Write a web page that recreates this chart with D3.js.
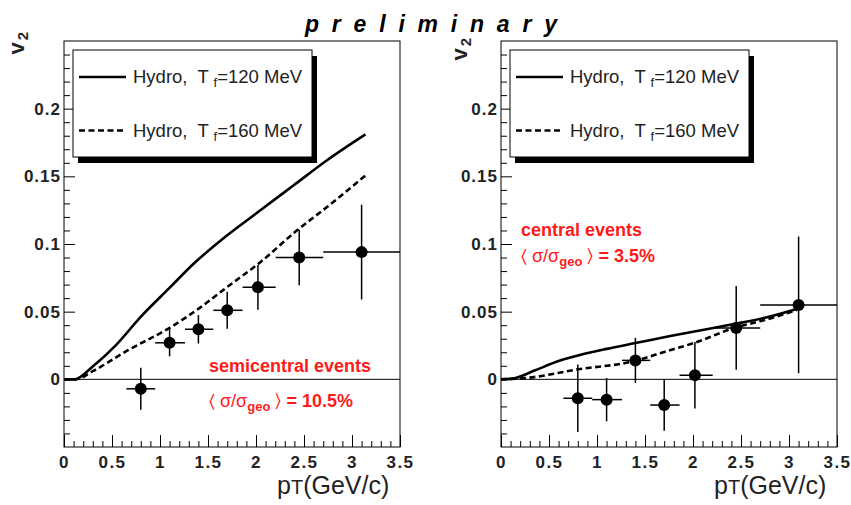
<!DOCTYPE html>
<html>
<head>
<meta charset="utf-8">
<script src="https://cdn.jsdelivr.net/npm/d3@7"></script>
<style>
  body { margin: 0; background: #fff; }
  svg { display: block; font-family: "Liberation Sans", Arial, Helvetica, sans-serif; }
  text { white-space: pre; }
</style>
</head>
<body>
<script>
// tick labels
var xTicks = [0, 0.5, 1, 1.5, 2, 2.5, 3, 3.5];
var yTicks = [0, 0.05, 0.1, 0.15, 0.2];

// measured points (pT bin centres, bin edges, v2, stat error)
var ptCenter = [0.80, 1.10, 1.40, 1.70, 2.02, 2.45, 3.10];
var ptLow = [0.65, 0.95, 1.26, 1.555, 1.86, 2.205, 2.70];
var ptHigh = [0.95, 1.26, 1.555, 1.86, 2.205, 2.70, 3.50];

var v2Semi = [-0.007, 0.027, 0.037, 0.051, 0.068, 0.090, 0.094];
var errSemi = [0.0155, 0.010, 0.0105, 0.0137, 0.0165, 0.0205, 0.035];

var v2Central = [-0.014, -0.015, 0.014, -0.019, 0.003, 0.038, 0.055];
var errCentral = [0.025, 0.016, 0.0167, 0.019, 0.0245, 0.031, 0.0505];

// hydro curves, semicentral
var hydroSemi120X = [0, 0.11, 0.305, 0.549, 0.792, 1.104, 1.347, 1.694, 2.042, 2.389, 2.736, 3.14];
var hydroSemi120Y = [0, 0, 0.0099, 0.0259, 0.0456, 0.0679, 0.0852, 0.1061, 0.1247, 0.1432, 0.1617, 0.181];
var hydroSemi160X = [0, 0.12, 0.305, 0.653, 1.104, 1.417, 1.694, 2.042, 2.424, 2.736, 3.14];
var hydroSemi160Y = [0, 0, 0.0062, 0.021, 0.0382, 0.053, 0.0679, 0.0864, 0.1099, 0.1271, 0.1506];

// hydro curves, central
var hydroCent120X = [0, 0.15, 0.35, 0.6, 0.85, 1.1, 1.4, 1.75, 2.1, 2.4, 2.75, 3.08];
var hydroCent120Y = [0, 0.001, 0.0065, 0.0135, 0.0185, 0.0225, 0.0268, 0.0318, 0.0365, 0.0405, 0.0455, 0.052];
var hydroCent160X = [0, 0.285, 0.805, 1.396, 1.674, 2.02, 2.44, 2.715, 3.08];
var hydroCent160Y = [0, 0.0012, 0.0074, 0.0136, 0.0197, 0.0271, 0.0382, 0.0432, 0.0512];

var legendLabels = ["120", "160"];

function zip(xs, ys) {
    return xs.map(function (x, i) { return [x, ys[i]]; });
}

var width = 851, height = 505;

var svg = d3.select("body")
    .append("svg")
    .attr("width", width)
    .attr("height", height);

//title
svg.append("text")
    .attr("x", 305)
    .attr("y", 32)
    .attr("font-size", 23)
    .attr("font-weight", "bold")
    .attr("font-style", "italic")
    .attr("letter-spacing", 12.8)
    .text("preliminary");

function drawPanel(opt) {
    var left = opt.left, top = 41, w = 336, h = 406;

    var x = d3.scaleLinear().domain([0, 3.5]).range([left, left + w]);
    var y = d3.scaleLinear().domain([-0.05, 0.25]).range([top + h, top]);

    var g = svg.append("g");

    // frame
    g.append("rect")
        .attr("x", left).attr("y", top)
        .attr("width", w).attr("height", h)
        .attr("fill", "none")
        .attr("stroke", "#000")
        .attr("stroke-width", 1);

    // x axis: major + minor ticks, pointing inside
    var xMinor = d3.range(1, 35).map(function (d) { return d / 10; })
        .filter(function (d) { return Math.abs(d * 2 - Math.round(d * 2)) > 1e-6; });
    var xAxMinor = g.append("g")
        .attr("transform", "translate(0," + (top + h) + ")")
        .call(d3.axisBottom(x).tickValues(xMinor).tickSizeInner(-6).tickSizeOuter(0).tickFormat(""));
    var xAx = g.append("g")
        .attr("transform", "translate(0," + (top + h) + ")")
        .call(d3.axisBottom(x).tickValues(xTicks).tickSizeInner(-12).tickSizeOuter(0).tickPadding(9)
            .tickFormat(d3.format("")));
    [xAx, xAxMinor].forEach(function (a) {
        a.select(".domain").remove();
        a.selectAll("line").attr("stroke", "#000");
    });
    xAx.selectAll("text")
        .attr("font-size", 17)
        .attr("font-weight", "bold")
        .attr("fill", "#222")
        .attr("letter-spacing", 1.5)
        .attr("font-family", "Liberation Sans, Arial, sans-serif");

    // y axis
    var yMinor = d3.range(-4, 25).map(function (d) { return d / 100; })
        .filter(function (d) { return Math.abs(d * 20 - Math.round(d * 20)) > 1e-6; });
    var yAxMinor = g.append("g")
        .attr("transform", "translate(" + left + ",0)")
        .call(d3.axisLeft(y).tickValues(yMinor).tickSizeInner(-6).tickSizeOuter(0).tickFormat(""));
    var yAx = g.append("g")
        .attr("transform", "translate(" + left + ",0)")
        .call(d3.axisLeft(y).tickValues(yTicks).tickSizeInner(-11).tickSizeOuter(0).tickPadding(3)
            .tickFormat(d3.format("")));
    [yAx, yAxMinor].forEach(function (a) {
        a.select(".domain").remove();
        a.selectAll("line").attr("stroke", "#000");
    });
    yAx.selectAll("text")
        .attr("font-size", 17)
        .attr("font-weight", "bold")
        .attr("fill", "#222")
        .attr("letter-spacing", 1)
        .attr("font-family", "Liberation Sans, Arial, sans-serif");

    // zero line
    g.append("line")
        .attr("x1", x(0)).attr("x2", x(3.5))
        .attr("y1", y(0)).attr("y2", y(0))
        .attr("stroke", "#000").attr("stroke-width", 1);

    // axis titles
    var xt = g.append("text")
        .attr("x", left + w - 123)
        .attr("y", 494)
        .attr("font-size", 25)
        .attr("fill", "#222");
    xt.append("tspan").text("p");
    xt.append("tspan").attr("font-size", 20).text("T");
    xt.append("tspan").text("(GeV/c)");

    var yt = g.append("text")
        .attr("transform", "translate(" + opt.ytX + "," + opt.ytY + ") rotate(-90)")
        .attr("text-anchor", "end")
        .attr("font-size", 22)
        .attr("font-weight", "bold")
        .attr("letter-spacing", 2)
        .attr("fill", "#222");
    yt.append("tspan").text("v");
    yt.append("tspan").attr("font-size", 15).attr("dy", 4).text("2");

    // hydro curves
    var line = d3.line()
        .x(function (d) { return x(d[0]); })
        .y(function (d) { return y(d[1]); })
        .curve(d3.curveMonotoneX);

    g.append("path")
        .datum(opt.solid)
        .attr("d", line)
        .attr("fill", "none")
        .attr("stroke", "#000")
        .attr("stroke-width", 2.6);
    g.append("path")
        .datum(opt.dashed)
        .attr("d", line)
        .attr("fill", "none")
        .attr("stroke", "#000")
        .attr("stroke-width", 2.6)
        .attr("stroke-dasharray", "6,3.5");

    // data points with error bars
    var pts = opt.v2.map(function (v, i) {
        return { x: ptCenter[i], lo: ptLow[i], hi: ptHigh[i], y: v, e: opt.err[i] };
    });
    var pg = g.selectAll(".pt").data(pts).join("g").attr("class", "pt");
    pg.append("line")
        .attr("x1", function (d) { return x(d.lo); })
        .attr("x2", function (d) { return x(d.hi); })
        .attr("y1", function (d) { return y(d.y); })
        .attr("y2", function (d) { return y(d.y); })
        .attr("stroke", "#000").attr("stroke-width", 1.5);
    pg.append("line")
        .attr("x1", function (d) { return x(d.x); })
        .attr("x2", function (d) { return x(d.x); })
        .attr("y1", function (d) { return y(d.y - d.e); })
        .attr("y2", function (d) { return y(d.y + d.e); })
        .attr("stroke", "#000").attr("stroke-width", 1.5);
    pg.append("circle")
        .attr("cx", function (d) { return x(d.x); })
        .attr("cy", function (d) { return y(d.y); })
        .attr("r", 6)
        .attr("fill", "#000");

    // legend with shadow
    var lx = opt.legX, ly = 50, lw = 239, lh = 107;
    g.append("rect")
        .attr("x", lx + 5).attr("y", ly + 6)
        .attr("width", lw).attr("height", lh)
        .attr("fill", "#000");
    g.append("rect")
        .attr("x", lx).attr("y", ly)
        .attr("width", lw).attr("height", lh)
        .attr("fill", "#fff")
        .attr("stroke", "#000").attr("stroke-width", 1);

    legendLabels.forEach(function (lab, i) {
        var yy = ly + 27 + i * 53.5;
        g.append("line")
            .attr("x1", lx + 6).attr("x2", lx + 53)
            .attr("y1", yy).attr("y2", yy)
            .attr("stroke", "#000").attr("stroke-width", 2.6)
            .attr("stroke-dasharray", i === 0 ? null : "6,3.5");
        var t = g.append("text")
            .attr("x", lx + 60)
            .attr("y", yy + 6)
            .attr("font-size", 18.5)
            .attr("fill", "#222");
        t.append("tspan").text("Hydro,  T ");
        t.append("tspan").attr("font-size", 13).attr("dy", 4).text("f");
        t.append("tspan").attr("dy", -4).text("=" + lab + " MeV");
    });

    // red annotation
    var red = "#ff1a1a";
    g.append("text")
        .attr("x", opt.noteX).attr("y", opt.noteY1)
        .attr("font-size", 18)
        .attr("font-weight", "bold")
        .attr("fill", red)
        .text(opt.note);
    var nt = g.append("text")
        .attr("x", opt.noteX).attr("y", opt.noteY2)
        .attr("font-size", 18)
        .attr("fill", red);
    nt.append("tspan").text("\u2329 \u03c3/\u03c3");
    nt.append("tspan").attr("font-size", 13).attr("font-weight", "bold").attr("dy", 4).text("geo");
    nt.append("tspan").attr("dy", -4).text(" \u232a");
    nt.append("tspan").attr("font-weight", "bold").text(" = " + opt.ratio);
}

drawPanel({
    left: 64,
    legX: 73,
    ytX: 24, ytY: 30,
    solid: zip(hydroSemi120X, hydroSemi120Y),
    dashed: zip(hydroSemi160X, hydroSemi160Y),
    v2: v2Semi, err: errSemi,
    note: "semicentral events", ratio: "10.5%",
    noteX: 209, noteY1: 372, noteY2: 407
});

drawPanel({
    left: 501,
    legX: 510,
    ytX: 467, ytY: 36,
    solid: zip(hydroCent120X, hydroCent120Y),
    dashed: zip(hydroCent160X, hydroCent160Y),
    v2: v2Central, err: errCentral,
    note: "central events", ratio: "3.5%",
    noteX: 521, noteY1: 236, noteY2: 262
});
</script>
</body>
</html>
